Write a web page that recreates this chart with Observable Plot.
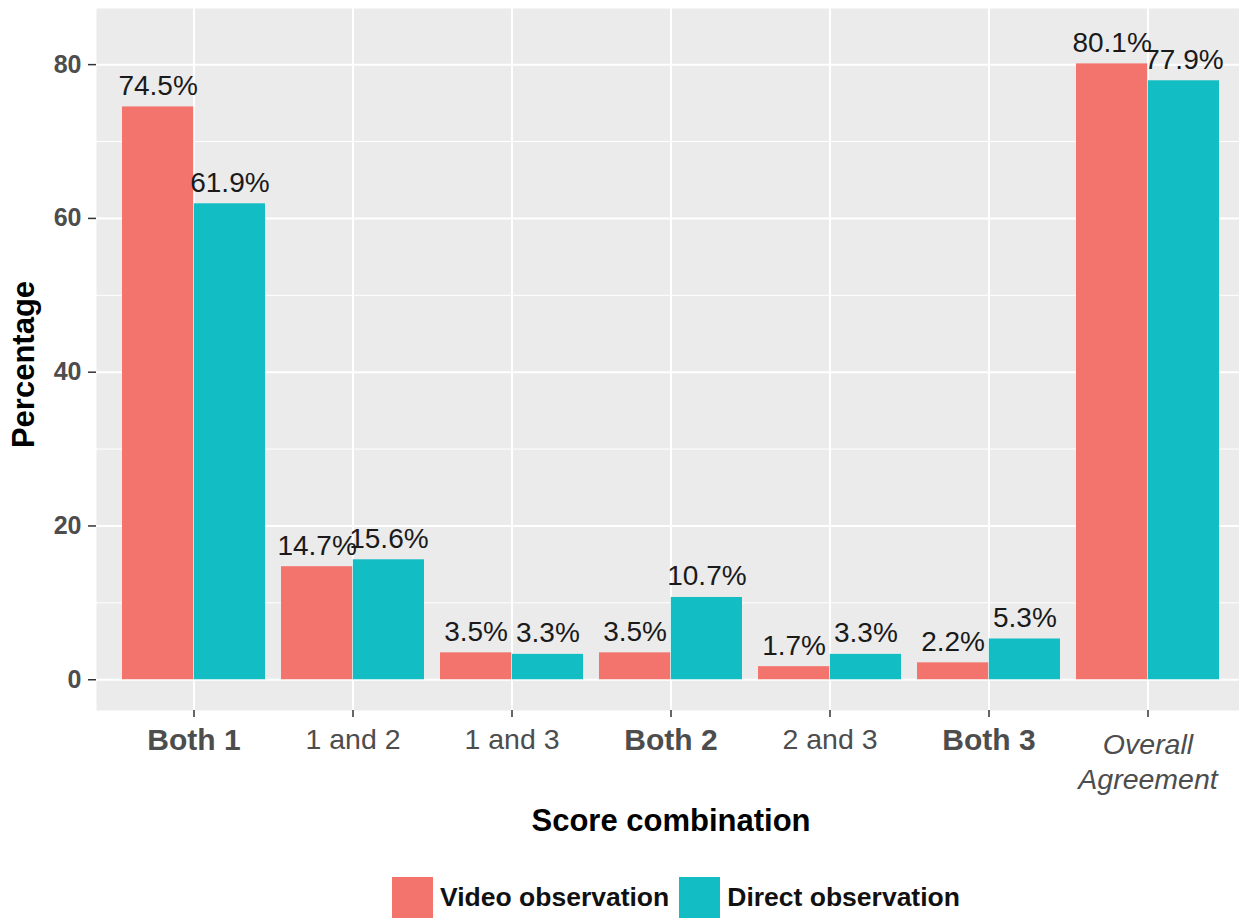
<!DOCTYPE html>
<html><head><meta charset="utf-8">
<script src="https://cdn.jsdelivr.net/npm/d3@7"></script>
<script src="https://cdn.jsdelivr.net/npm/@observablehq/plot@0.6"></script>
<style>
html,body{margin:0;padding:0;overflow:hidden;background:#fff;}
#legend{display:flex;align-items:center;margin-left:392px;margin-top:17px;font-family:"Liberation Sans",Arial,sans-serif;font-weight:bold;font-size:26.5px;color:#111;}
#legend .sw{width:41px;height:41px;margin-right:7px;}
#legend .lab{margin-right:10px;}
</style></head><body>
<div id="chart"></div>
<div id="legend"></div>
<script>
const categories = ["Both 1","1 and 2","1 and 3","Both 2","2 and 3","Both 3","Overall Agreement"];
const tickLabels = ["Both 1","1 and 2","1 and 3","Both 2","2 and 3","Both 3","Overall\nAgreement"];
const videoValues = [74.5,14.7,3.5,3.5,1.7,2.2,80.1];
const directValues = [61.9,15.6,3.3,10.7,3.3,5.3,77.9];
const series = ["Video observation","Direct observation"];
const colors = ["#F3736D","#13BDC4"];
const yTicks = [0,20,40,60,80];
const yMinor = [10,30,50,70];
const boldCats = ["Both 1","Both 2","Both 3"];
const italicCats = ["Overall Agreement"];

const W = 1245, H = 860, ML = 96, MR = 0, MT = 8, MB = 150;
const PI = 0.1, PO = 0.15;
const step = (W - ML - MR) / (categories.length - PI + 2 * PO);
const bw = step * (1 - PI);

const data = categories.flatMap((c, i) => [
  {category: c, series: series[0], value: videoValues[i]},
  {category: c, series: series[1], value: directValues[i]}
]);
const vid = data.filter(d => d.series === series[0]);
const dir = data.filter(d => d.series === series[1]);
const labelOf = c => tickLabels[categories.indexOf(c)];
const plainCats = categories.filter(c => !boldCats.includes(c) && !italicCats.includes(c));

const chart = Plot.plot({
  width: W, height: H,
  marginLeft: ML, marginRight: MR, marginTop: MT, marginBottom: MB,
  x: {type: "band", domain: categories, paddingInner: PI, paddingOuter: PO, axis: null},
  y: {domain: [-4.0, 87.3], axis: null},
  style: {fontFamily: "'Liberation Sans', Arial, sans-serif", background: "white", overflow: "visible", maxWidth: "none"},
  marks: [
    Plot.frame({fill: "#EBEBEB", stroke: "none"}),
    Plot.ruleY(yMinor, {stroke: "white", strokeWidth: 1}),
    Plot.ruleY(yTicks, {stroke: "white", strokeWidth: 2}),
    Plot.gridX({stroke: "white", strokeOpacity: 1, strokeWidth: 2}),
    Plot.barY(vid, {x: "category", y: "value", fill: colors[0], insetRight: bw / 2}),
    Plot.barY(dir, {x: "category", y: "value", fill: colors[1], insetLeft: bw / 2}),
    Plot.text(vid, {x: "category", y: "value", text: d => d.value.toFixed(1) + "%", dx: -bw / 4, dy: -12, lineAnchor: "bottom", fontSize: 28, fill: "#1A1A1A"}),
    Plot.text(dir, {x: "category", y: "value", text: d => d.value.toFixed(1) + "%", dx: bw / 4, dy: -12, lineAnchor: "bottom", fontSize: 28, fill: "#1A1A1A"}),
    Plot.axisY(yTicks, {tickSize: 8, tickPadding: 7, fontSize: 25, fontWeight: "bold", fill: "#4D4D4D", stroke: "#333", strokeWidth: 1.5, label: null}),
    Plot.axisX({tickSize: 7, tickFormat: () => "", stroke: "#333", strokeWidth: 1.5, label: null}),
    Plot.text(boldCats, {x: d => d, text: labelOf, frameAnchor: "bottom", lineAnchor: "top", dy: 18, fontSize: 30, fontWeight: "bold", fill: "#4D4D4D"}),
    Plot.text(plainCats, {x: d => d, text: labelOf, frameAnchor: "bottom", lineAnchor: "top", dy: 18, fontSize: 28.5, fill: "#4D4D4D"}),
    Plot.text(italicCats, {x: d => d, text: labelOf, frameAnchor: "bottom", lineAnchor: "top", dy: 18, fontSize: 28.5, fontStyle: "italic", lineHeight: 1.24, fill: "#4D4D4D"}),
    Plot.text(["Percentage"], {text: d => d, frameAnchor: "left", textAnchor: "middle", rotate: -90, dx: -72, dy: 5, fontSize: 31, fontWeight: "bold", fill: "#000"}),
    Plot.text(["Score combination"], {text: d => d, frameAnchor: "bottom", lineAnchor: "bottom", dy: 120, fontSize: 31, fontWeight: "bold", fill: "#000"})
  ]
});
document.getElementById("chart").appendChild(chart);

const legend = document.getElementById("legend");
series.forEach((s, i) => {
  const sw = document.createElement("div");
  sw.className = "sw"; sw.style.background = colors[i];
  const lab = document.createElement("span");
  lab.className = "lab"; lab.textContent = s;
  legend.appendChild(sw); legend.appendChild(lab);
});
</script>
</body></html>
